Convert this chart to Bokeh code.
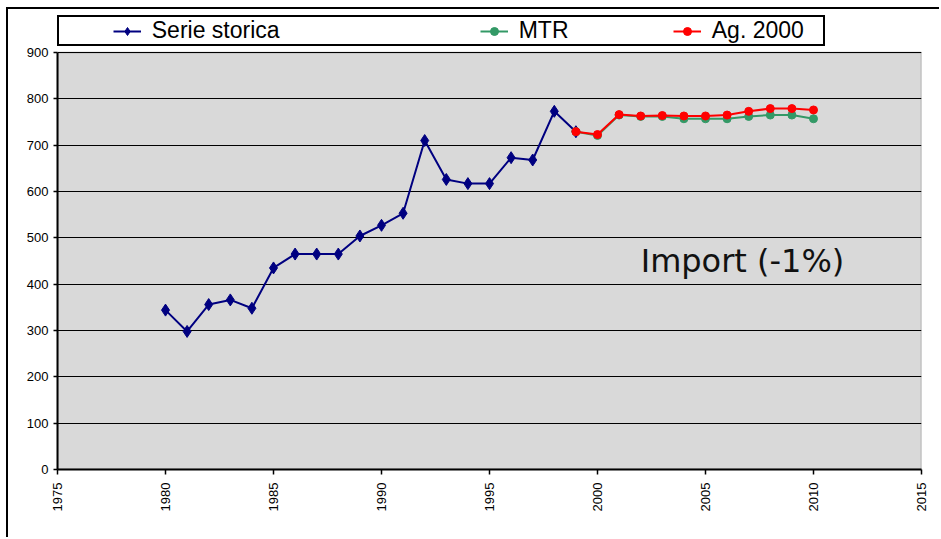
import math
from bokeh.plotting import figure
from bokeh.models import (Range1d, Legend, LegendItem, Label, FixedTicker,
                          BoxAnnotation)
from bokeh.embed import file_html
from bokeh.resources import INLINE

# ---- data ----
years_hist = [1980, 1981, 1982, 1983, 1984, 1985, 1986, 1987, 1988, 1989,
              1990, 1991, 1992, 1993, 1994, 1995, 1996, 1997, 1998, 1999]
serie_storica = [344, 298, 356, 366, 348, 435, 465, 465, 465, 504,
                 527, 553, 710, 626, 617, 617, 673, 668, 773, 729]

years_proj = [1999, 2000, 2001, 2002, 2003, 2004, 2005, 2006, 2007, 2008, 2009, 2010]
mtr = [729, 721, 765, 762, 762, 757, 757, 757, 762, 765, 765, 757]
ag2000 = [729, 723, 766, 763, 764, 763, 763, 765, 773, 779, 779, 776]

y_ticks = [0, 100, 200, 300, 400, 500, 600, 700, 800, 900]
x_ticks = [1975, 1980, 1985, 1990, 1995, 2000, 2005, 2010, 2015]

series_names = ["Serie storica", "MTR", "Ag. 2000"]
annotation_text = "Import (-1%)"

NB = "\u00a0"
X0, X1 = 1975, 2015
Y0, Y1 = 0, 900
# frame extends above the 900 line to host the legend (plot area 52..469 px, frame top at 9 px)
Y_TOP = Y1 * (469 - 9) / (469 - 52)

# ---- figure (outer chart border via CSS on the host element) ----
p = figure(width=933, height=530, output_backend="svg", toolbar_location=None,
           x_range=Range1d(X0, X1), y_range=Range1d(Y0, Y_TOP),
           min_border_left=49, min_border_right=20,
           min_border_top=0, min_border_bottom=70)
p.styles = {"margin-left": "6px", "margin-top": "7px",
            "border-left": "2px solid black", "border-top": "2px solid black"}

p.background_fill_color = "white"
p.border_fill_color = "white"
p.outline_line_color = None

# grey plot area with black border
plot_area = BoxAnnotation(left=X0, right=X1, bottom=Y0, top=Y1,
                          fill_color="#d9d9d9", fill_alpha=1,
                          line_color="black", line_width=1.5, level="image")
p.add_layout(plot_area)

p.xgrid.visible = False
p.ygrid.grid_line_color = "black"
p.ygrid.grid_line_width = 1

p.xaxis.ticker = FixedTicker(ticks=x_ticks)
p.yaxis.ticker = FixedTicker(ticks=y_ticks)
p.yaxis.bounds = (Y0, Y1)
p.xaxis.major_label_orientation = math.pi / 2
for ax in (p.xaxis, p.yaxis):
    ax.axis_line_color = "black"
    ax.axis_line_width = 2
    ax.major_tick_line_color = "black"
    ax.major_tick_line_width = 1.5
    ax.major_tick_in = 0
    ax.minor_tick_line_color = None
    ax.major_label_text_font = "Liberation Sans"
    ax.major_label_text_font_size = "13px"
    ax.major_label_text_color = "black"
p.yaxis.major_tick_out = 4
p.xaxis.major_tick_out = 5
p.yaxis.major_label_standoff = 5
p.xaxis.major_label_standoff = 8

# ---- series ----
l1 = p.line(years_hist, serie_storica, line_color="#000080", line_width=2)
s1 = p.scatter(years_hist, serie_storica, marker="diamond", size=12,
               fill_color="#000080", line_color="#000080")
l2 = p.line(years_proj, mtr, line_color="#339966", line_width=2)
s2 = p.scatter(years_proj, mtr, marker="circle", size=8,
               fill_color="#339966", line_color="#339966")
l3 = p.line(years_proj, ag2000, line_color="#ff0000", line_width=2)
s3 = p.scatter(years_proj, ag2000, marker="circle", size=8,
               fill_color="#ff0000", line_color="#ff0000")
spacer = p.line(years_hist, serie_storica, line_alpha=0)

# ---- legend (single bordered row above the plot area) ----
items = [
    LegendItem(label=NB * 2, renderers=[spacer]),
    LegendItem(label=series_names[0] + NB * 31, renderers=[l1, s1]),
    LegendItem(label=series_names[1] + NB * 16, renderers=[l2, s2]),
    LegendItem(label=series_names[2] + NB * 3, renderers=[l3, s3]),
]
legend = Legend(items=items, location=(0, 423), orientation="horizontal",
                padding=0, margin=0, spacing=2,
                glyph_width=28, glyph_height=20, label_standoff=11,
                label_height=20, label_width=0,
                label_text_font="Liberation Sans", label_text_font_size="23px",
                label_text_color="black",
                border_line_color="black", border_line_width=2,
                border_line_alpha=1,
                background_fill_color="white", background_fill_alpha=1)
p.add_layout(legend, "center")

p.add_layout(Label(x=2002, y=449, text=annotation_text, text_font="DejaVu Sans",
                   text_font_size="32px", text_color="#111111",
                   text_baseline="alphabetic"))

open("out.html", "w").write(file_html(p, INLINE))
